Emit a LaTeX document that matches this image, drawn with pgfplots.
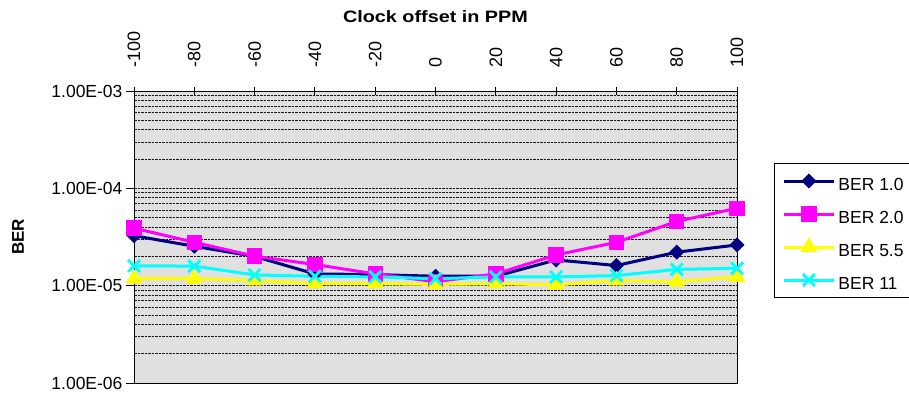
\documentclass[border=0pt]{standalone}
\usepackage{fontspec}
\setmainfont{Liberation Sans}
\usepackage{graphicx}
\usepackage{pgfplots}
\pgfplotsset{compat=1.18}

\definecolor{plotgray}{RGB}{224,224,224}
\definecolor{bernavy}{RGB}{0,0,128}
\definecolor{bermagenta}{RGB}{255,0,255}
\definecolor{beryellow}{RGB}{255,255,0}
\definecolor{bercyan}{RGB}{0,255,255}

\begin{document}
\begin{tikzpicture}
\begin{axis}[
  at={(134pt,17pt)}, anchor=south west,
  scale only axis, width=603pt, height=292pt,
  xmin=-100, xmax=100,
  ymode=log, ymin=1e-6, ymax=1e-3,
  xtick={-100,-80,-60,-40,-20,0,20,40,60,80,100},
  xticklabels={-100,-80,-60,-40,-20,0,20,40,60,80,100},
  xtick pos=right, xticklabel pos=right,
  xtick align=center,
  xticklabel shift=16pt,
  ytick={1e-6,1e-5,1e-4,1e-3},
  yticklabels={1.00E-06,1.00E-05,1.00E-04,1.00E-03},
  ytick pos=left, ytick align=outside,
  major tick length=8pt, minor tick length=0pt,
  ymajorgrids, yminorgrids,
  major grid style={black!90, line width=0.7pt, dash pattern=on 2.5pt off 1pt},
  minor grid style={black!90, line width=0.7pt, dash pattern=on 2.5pt off 1pt},
  axis background/.style={fill=plotgray},
  axis line style={line width=1pt},
  every tick/.style={black, line width=1pt},
  xticklabel style={rotate=90, anchor=west, font=\fontsize{18}{21}\selectfont},
  yticklabel style={font=\fontsize{17.5}{20}\selectfont},
  ylabel={BER},
  ylabel style={at={(axis description cs:-0.1924,0.5)}, anchor=center,
    font=\bfseries\fontsize{17}{20}\selectfont},
  title={\scalebox{1.2}[1]{Clock offset in PPM}},
  title style={at={(axis description cs:0.5,1.235)}, anchor=center,
    font=\bfseries\fontsize{16.5}{20}\selectfont},
  legend style={at={(1.0614,0.753)}, anchor=north west, draw=black,
    line width=0.8pt, fill=white, font=\fontsize{17.5}{21}\selectfont,
    inner xsep=8pt, inner ysep=8pt, row sep=14pt, column sep=3pt,
    nodes={inner sep=0pt, text height=19pt, text depth=0pt}},
  legend cell align=left,
  legend image code/.code={
    \draw[mark repeat=2, mark phase=2]
      plot coordinates {(0pt,0pt) (25pt,0pt) (50pt,0pt)};},
]
% BER 1.0
\addplot[color=bernavy, line width=3pt, mark=square*, mark size=4.8pt,
  mark options={rotate=45, solid, line width=1pt}] coordinates {
  (-100,3.26e-5) (-80,2.54e-5) (-60,2.0e-5) (-40,1.32e-5) (-20,1.3e-5)
  (0,1.25e-5) (20,1.25e-5) (40,1.84e-5) (60,1.61e-5) (80,2.21e-5) (100,2.62e-5)};
\addlegendentry{\makebox[72pt][l]{BER 1.0}}
% BER 2.0
\addplot[color=bermagenta, line width=3pt, mark=square*, mark size=7.2pt,
  mark options={solid, line width=1pt}] coordinates {
  (-100,3.9e-5) (-80,2.79e-5) (-60,2.01e-5) (-40,1.65e-5) (-20,1.32e-5)
  (0,1.1e-5) (20,1.32e-5) (40,2.07e-5) (60,2.79e-5) (80,4.57e-5) (100,6.25e-5)};
\addlegendentry{\makebox[72pt][l]{BER 2.0}}
% BER 5.5
\addplot[color=beryellow, line width=3pt, mark=triangle*, mark size=8.7pt,
  mark options={solid, line width=1pt}] coordinates {
  (-100,1.18e-5) (-80,1.18e-5) (-60,1.13e-5) (-40,1.05e-5) (-20,1.05e-5)
  (0,1.03e-5) (20,1.05e-5) (40,1.02e-5) (60,1.13e-5) (80,1.1e-5) (100,1.23e-5)};
\addlegendentry{\makebox[72pt][l]{BER 5.5}}
% BER 11
\addplot[color=bercyan, line width=3pt, mark=x, mark size=8.5pt,
  mark options={solid, line width=2.8pt}] coordinates {
  (-100,1.6e-5) (-80,1.59e-5) (-60,1.29e-5) (-40,1.25e-5) (-20,1.23e-5)
  (0,1.18e-5) (20,1.23e-5) (40,1.23e-5) (60,1.27e-5) (80,1.47e-5) (100,1.51e-5)};
\addlegendentry{\makebox[72pt][l]{BER 11}}
\end{axis}
\pgfresetboundingbox
\path[use as bounding box] (0,0) rectangle (909pt,400pt);
\end{tikzpicture}
\end{document}
